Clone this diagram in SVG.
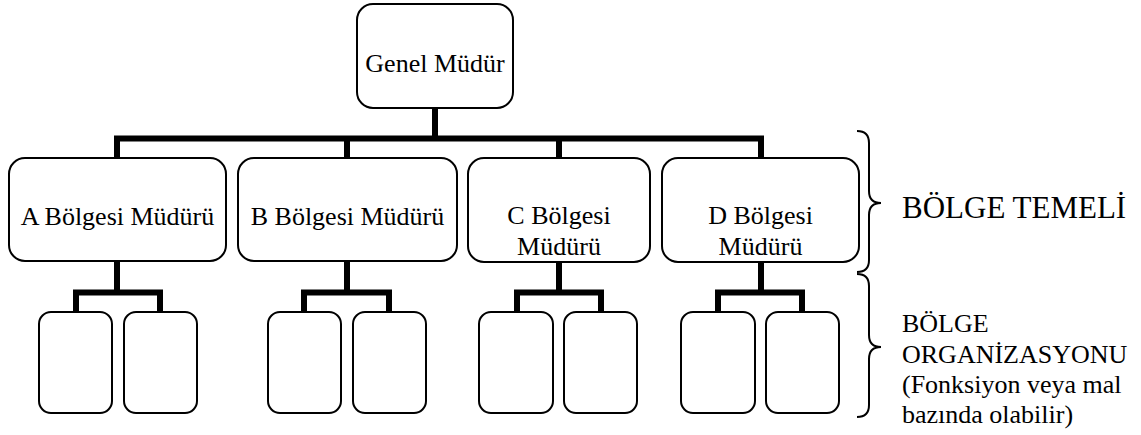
<svg xmlns="http://www.w3.org/2000/svg" width="1141" height="435" viewBox="0 0 1141 435">
  <style>
    .box { fill: #ffffff; stroke: #000000; stroke-width: 2; }
    .wire { fill: none; stroke: #000000; stroke-width: 6; stroke-linejoin: miter; stroke-linecap: butt; }
    .brace { fill: none; stroke: #000000; stroke-width: 2; }
    .lbl { font-family: "Liberation Serif", "Times New Roman", serif; font-size: 26px; fill: #000000; }
    .side { font-family: "Liberation Serif", "Times New Roman", serif; fill: #000000; }
  </style>
  <rect width="1141" height="435" fill="#ffffff"/>

  <!-- connectors -->
  <g id="connectors">
    <path class="wire" d="M435 108 V138.5"/>
    <path class="wire" d="M117 158 V138.5 H761 V158"/>
    <path class="wire" d="M347 138.5 V158"/>
    <path class="wire" d="M559 138.5 V158"/>

    <path class="wire" d="M117 261 V292.5"/>
    <path class="wire" d="M76 312 V292.5 H160 V312"/>
    <path class="wire" d="M347 261 V292.5"/>
    <path class="wire" d="M304 312 V292.5 H389 V312"/>
    <path class="wire" d="M559 262 V292.5"/>
    <path class="wire" d="M517 312 V292.5 H601 V312"/>
    <path class="wire" d="M761 262 V292.5"/>
    <path class="wire" d="M718 312 V292.5 H802 V312"/>
  </g>

  <!-- top manager -->
  <g id="genel">
    <rect class="box" x="357" y="4" width="156" height="104" rx="16"/>
    <text class="lbl" x="435" y="72" text-anchor="middle">Genel Müdür</text>
  </g>

  <!-- regional managers -->
  <g id="bolge-a">
    <rect class="box" x="9" y="158" width="217" height="103" rx="16"/>
    <text class="lbl" x="117.5" y="225" text-anchor="middle">A Bölgesi Müdürü</text>
  </g>
  <g id="bolge-b">
    <rect class="box" x="238" y="158" width="219" height="103" rx="16"/>
    <text class="lbl" x="347.5" y="225" text-anchor="middle">B Bölgesi Müdürü</text>
  </g>
  <g id="bolge-c">
    <rect class="box" x="468" y="158" width="182" height="104" rx="16"/>
    <text class="lbl" x="559" y="224" text-anchor="middle">C Bölgesi</text>
    <text class="lbl" x="559" y="255" text-anchor="middle">Müdürü</text>
  </g>
  <g id="bolge-d">
    <rect class="box" x="662" y="158" width="197" height="104" rx="16"/>
    <text class="lbl" x="760.5" y="224" text-anchor="middle">D Bölgesi</text>
    <text class="lbl" x="760.5" y="255" text-anchor="middle">Müdürü</text>
  </g>

  <!-- regional sub-units -->
  <g id="a-1"><rect class="box" x="39" y="312" width="73" height="101" rx="12"/></g>
  <g id="a-2"><rect class="box" x="124" y="312" width="73" height="101" rx="12"/></g>
  <g id="b-1"><rect class="box" x="268" y="312" width="73" height="101" rx="12"/></g>
  <g id="b-2"><rect class="box" x="353" y="312" width="73" height="101" rx="12"/></g>
  <g id="c-1"><rect class="box" x="479" y="312" width="74" height="101" rx="12"/></g>
  <g id="c-2"><rect class="box" x="564" y="312" width="73" height="101" rx="12"/></g>
  <g id="d-1"><rect class="box" x="681" y="312" width="74" height="101" rx="12"/></g>
  <g id="d-2"><rect class="box" x="766" y="312" width="73" height="101" rx="12"/></g>

  <!-- side braces and notes -->
  <g id="temel">
    <path class="brace" d="M857 131 Q869 131 869 143 V191 Q869 203 881 203 Q869 203 869 215 V260 Q869 272 857 272"/>
    <text class="side" x="902" y="218" font-size="31">BÖLGE TEMELİ</text>
  </g>
  <g id="organizasyon">
    <path class="brace" d="M857 274 Q869 274 869 286 V335 Q869 347 881 347 Q869 347 869 359 V405 Q869 417 857 417"/>
    <text class="side" font-size="26">
      <tspan x="902" y="332">BÖLGE</tspan>
      <tspan x="902" y="363">ORGANİZASYONU</tspan>
      <tspan x="902" y="393">(Fonksiyon veya mal</tspan>
      <tspan x="902" y="423">bazında olabilir)</tspan>
    </text>
  </g>
</svg>
